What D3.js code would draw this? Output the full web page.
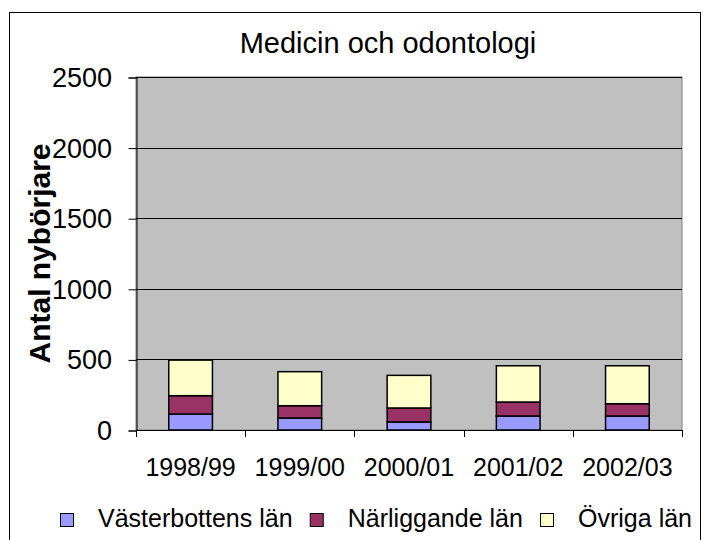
<!DOCTYPE html>
<html>
<head>
<meta charset="utf-8">
<script src="https://cdn.jsdelivr.net/npm/d3@7"></script>
<style>
  body { margin: 0; background: #fff; }
  text { font-family: Arial, "Liberation Sans", sans-serif; }
</style>
</head>
<body>
<div id="chart"></div>
<script>
// data
const years = ['1998/99', '1999/00', '2000/01', '2001/02', '2002/03']
const vasterbotten = [113, 85, 57, 99, 99]
const narliggande = [130, 87, 99, 99, 87]
const ovriga = [252, 241, 231, 257, 269]
const seriesNames = ['Västerbottens län', 'Närliggande län', 'Övriga län']
const colors = ['#9999FF', '#993366', '#FFFFCC']
const yTicks = [0, 500, 1000, 1500, 2000, 2500]

var width = 707, height = 540
var plot = { left: 136, right: 682, top: 77, bottom: 430 }

var svg = d3.select('#chart').append('svg')
    .attr('width', width)
    .attr('height', height)

svg.append('rect').attr('width', width).attr('height', height).attr('fill', '#fff')

// outer frame (bottom edge runs off the picture)
svg.append('rect')
    .attr('x', 9.5).attr('y', 12.5)
    .attr('width', 691).attr('height', 540)
    .attr('fill', 'none').attr('stroke', '#000')

let x = d3.scaleBand()
    .domain(years)
    .range([plot.left, plot.right])
    .padding(0)

let y = d3.scaleLinear()
    .domain([0, 2500])
    .range([plot.bottom, plot.top])

// plot area
svg.append('rect')
    .attr('x', plot.left).attr('y', plot.top)
    .attr('width', plot.right - plot.left).attr('height', plot.bottom - plot.top)
    .attr('fill', '#C0C0C0')
    .attr('stroke', '#808080')

// gridlines
svg.append('g')
    .selectAll('line')
    .data(yTicks.slice(1))
    .enter()
    .append('line')
    .attr('x1', plot.left).attr('x2', plot.right)
    .attr('y1', d => Math.round(y(d)) + 0.5).attr('y2', d => Math.round(y(d)) + 0.5)
    .attr('stroke', '#000')

// y axis (ticks from the axis, labels placed by hand further left)
let yAxis = svg.append('g')
    .attr('transform', 'translate(' + (plot.left + 0.5) + ',0.5)')
    .call(d3.axisLeft(y).tickValues(yTicks).tickSize(8).tickFormat(''))
yAxis.select('.domain').attr('stroke', '#000')

svg.append('g')
    .selectAll('text')
    .data(yTicks)
    .enter()
    .append('text')
    .attr('x', 112)
    .attr('y', d => y(d) + 10)
    .attr('text-anchor', 'end')
    .style('font-size', '27px')
    .text(d => d)

// stacked bars
let stackData = years.map((yr, i) => ({ year: yr, 0: vasterbotten[i], 1: narliggande[i], 2: ovriga[i] }))
let stacked = d3.stack().keys([0, 1, 2])(stackData)
let barW = x.bandwidth() * 0.4

svg.append('g')
    .selectAll('g')
    .data(stacked)
    .enter()
    .append('g')
    .attr('fill', (d, i) => colors[i])
    .selectAll('rect')
    .data(d => d)
    .enter()
    .append('rect')
    .attr('x', d => x(d.data.year) + (x.bandwidth() - barW) / 2)
    .attr('y', d => y(d[1]))
    .attr('width', barW)
    .attr('height', d => y(d[0]) - y(d[1]))
    .attr('stroke', '#000')
    .attr('stroke-width', 1.5)

// x axis
svg.append('line')
    .attr('x1', plot.left).attr('x2', plot.right)
    .attr('y1', plot.bottom + 0.5).attr('y2', plot.bottom + 0.5)
    .attr('stroke', '#000')

svg.append('g')
    .selectAll('line')
    .data(years.concat(['end']))
    .enter()
    .append('line')
    .attr('x1', (d, i) => Math.round(plot.left + i * x.step()) + 0.5)
    .attr('x2', (d, i) => Math.round(plot.left + i * x.step()) + 0.5)
    .attr('y1', plot.bottom).attr('y2', plot.bottom + 7)
    .attr('stroke', '#000')

svg.append('g')
    .selectAll('text')
    .data(years)
    .enter()
    .append('text')
    .attr('x', d => x(d) + x.bandwidth() / 2)
    .attr('y', 476)
    .attr('text-anchor', 'middle')
    .style('font-size', '25px')
    .text(d => d)

// title
svg.append('text')
    .attr('x', 388).attr('y', 53)
    .attr('text-anchor', 'middle')
    .style('font-size', '29px')
    .text('Medicin och odontologi')

// y label
svg.append('text')
    .attr('transform', 'translate(50,' + ((plot.top + plot.bottom) / 2) + ') rotate(-90)')
    .attr('text-anchor', 'middle')
    .style('font-size', '30px')
    .style('font-weight', 'bold')
    .text('Antal nybörjare')

// legend: spread the three entries between x=60 and x=692
let legend = svg.append('g').attr('class', 'legend')
let items = seriesNames.map((name, i) => {
    let t = legend.append('text')
        .attr('y', 527)
        .style('font-size', '25px')
        .text(name)
    return { text: t, len: t.node().getComputedTextLength(), i: i }
})
let used = items.reduce((s, d) => s + 38 + d.len, 0)
let gap = (692 - 60 - used) / (items.length - 1)
let lx = 60
items.forEach(d => {
    legend.append('rect')
        .attr('x', lx + 0.5).attr('y', 513.5)
        .attr('width', 13).attr('height', 13)
        .attr('fill', colors[d.i])
        .attr('stroke', '#000')
    d.text.attr('x', lx + 38)
    lx = lx + 38 + d.len + gap
})
</script>
</body>
</html>
